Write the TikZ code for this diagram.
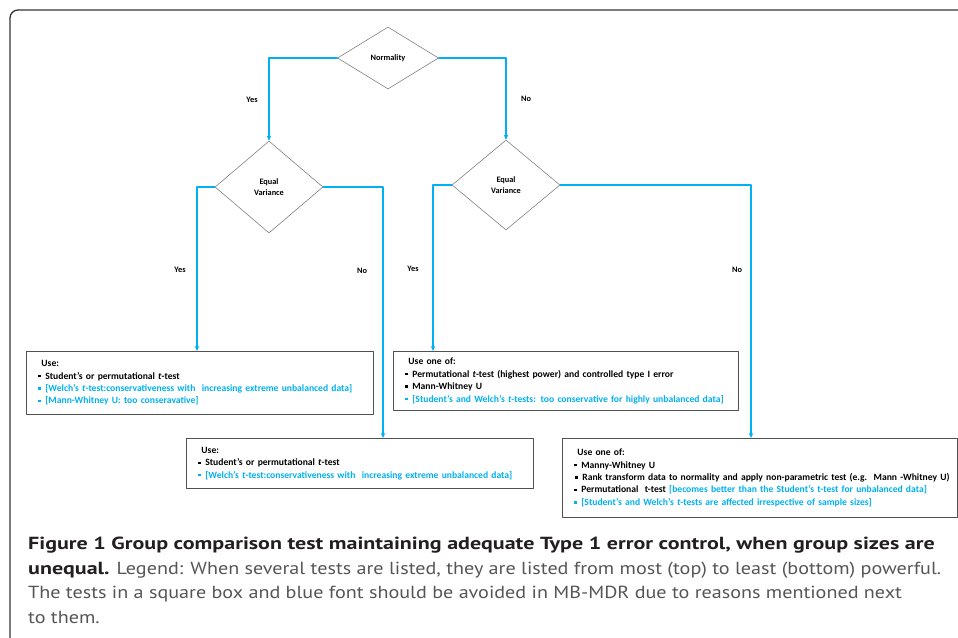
\documentclass[tikz,border=0pt]{standalone}
\usepackage{fontspec}
\setmainfont{Carlito}
\newfontfamily\capfont[FakeStretch=1.15,BoldFeatures={FakeStretch=1.258}]{PT Sans}
\usetikzlibrary{shapes.geometric,arrows.meta}
\definecolor{flowblue}{RGB}{0,176,240}
\definecolor{diagray}{RGB}{128,128,128}
\definecolor{boxgray}{RGB}{80,80,80}
\definecolor{capgray}{RGB}{85,85,85}
\definecolor{capdark}{RGB}{35,31,32}
\newcommand{\sq}{\rule[1.8pt]{2.4pt}{2.4pt}\hspace{4.5pt}}

\tikzset{
	decision/.style={diamond,draw=diagray,line width=0.6pt,inner sep=0pt,align=center,font=\fontsize{8.3}{10.3}\bfseries\selectfont},
	result/.style={draw=boxgray,line width=0.9pt,anchor=north west,align=left,inner xsep=12pt,font=\fontsize{9.6}{12.4}\bfseries\selectfont},
	flow/.style={draw=flowblue,line width=1.6pt,-{Stealth[length=5pt,width=4.5pt]}},
	lbl/.style={font=\fontsize{8.3}{9}\bfseries\selectfont,inner sep=0pt}
}

\begin{document}
\begin{tikzpicture}[x=1pt,y=-1pt,line cap=round,line join=round]
		\useasboundingbox (0,0) rectangle (958,637);
		% frame
		\draw[line width=1.3pt,black!80,rounded corners=8pt] (10,640) -- (10,10) -- (960,10);
		% decisions
		\node[decision,minimum width=101pt,minimum height=62pt] (norm) at (388,58) {Normality};
		\node[decision,minimum width=108pt,minimum height=92pt] (eqL) at (269,187) {Equal\\Variance};
		\node[decision,minimum width=108pt,minimum height=90pt] (eqR) at (506,185) {Equal\\Variance};
		% results
		\node[result,minimum width=347pt,minimum height=63pt,text width=323pt] (useA) at (26,351) {%
			\hspace{3pt}Use:\\
			\sq Student's or permutational \textit{t}-test\\
			{\color{flowblue}\sq [Welch's \textit{t}-test:conservativeness with\ \ increasing\ extreme unbalanced\ data]}\\
			{\color{flowblue}\sq [Mann-Whitney U: too conseravative]}};
		\node[result,minimum width=347pt,minimum height=50pt,text width=323pt] (useB) at (186,438) {%
			\hspace{3pt}Use:\\
			\sq Student's or permutational \textit{t}-test\\
			{\color{flowblue}\sq [Welch's \textit{t}-test:conservativeness with\ \ increasing extreme unbalanced data]}};
		\node[result,minimum width=345pt,minimum height=59pt,text width=321pt] (useC) at (393,351) {%
			\hspace{3pt}Use one of:\\
			\sq Permutational \textit{t}-test (highest power) and controlled type I error\\
			\sq Mann-Whitney U\\
			{\color{flowblue}\sq [Student's and Welch's \textit{t}-tests: too conservative for highly unbalanced data]}};
		\node[result,minimum width=395pt,minimum height=79pt,text width=371pt] (useD) at (562,438) {%
			\hspace{3pt}Use one of:\\
			\sq Manny-Whitney U\\
			\mbox{\hspace{1pt}\sq Rank transform data to normality and apply non-parametric test (e.g.\ \ Mann -Whitney U)}\\
			\sq Permutational\ \ t-test {\color{flowblue}[becomes better than the Student's t-test for unbalanced data]}\\
			{\color{flowblue}\sq [Student's and Welch's \textit{t}-tests are affected irrespective of sample sizes]}};
		% connectors
		\draw[flow] (norm.west) -| node[lbl,pos=0.75,xshift=-17pt]{Yes} (eqL.north);
		\draw[flow] (norm.east) -| node[lbl,pos=0.75,xshift=20pt]{No} (eqR.north);
		\draw[flow] (eqL.west) -| node[lbl,pos=0.753,xshift=-17pt]{Yes} ([xshift=171pt]useA.north west);
		\draw[flow] (eqL.east) -| node[lbl,pos=0.668,xshift=-21pt]{No} ([xshift=197pt]useB.north west);
		\draw[flow] (eqR.west) -| node[lbl,pos=0.753,xshift=-20pt]{Yes} ([xshift=40pt]useC.north west);
		\draw[flow] (eqR.east) -| node[lbl,pos=0.668,xshift=-14pt]{No} ([xshift=189pt]useD.north west);
		% caption
		\node[anchor=north west,align=left,inner sep=0pt,text=capgray,font=\capfont\fontsize{17.5}{24.6}\selectfont] (cap) at (28,537) {%
			{\bfseries\color{capdark}Figure 1 Group comparison test maintaining adequate Type 1 error control, when group sizes are}\\
			{\bfseries\color{capdark}unequal.} Legend: When several tests are listed, they are listed from most (top) to least (bottom) powerful.\\
			The tests in a square box and blue font should be avoided in MB-MDR due to reasons mentioned next\\
			to them.};
\end{tikzpicture}
\end{document}
